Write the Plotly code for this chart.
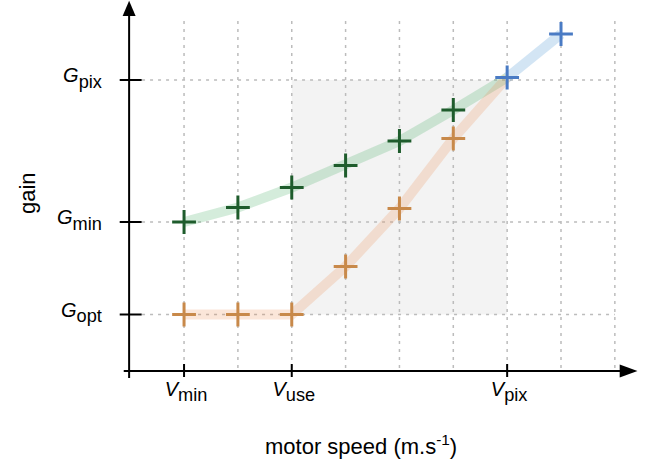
import plotly.graph_objects as go

# ---------------- data ----------------
grid_speed = [1, 2, 3, 4, 5, 6, 7, 8, 9]

green_speed = [1, 2, 3, 4, 5, 6, 7]
green_gain = [14.9, 16.35, 18.35, 20.55, 23.0, 26.1, 29.35]

orange_speed = [1, 2, 3, 4, 5, 6, 7]
orange_gain = [5.65, 5.65, 5.65, 10.45, 16.25, 23.25, 29.35]

blue_speed = [7, 8]
blue_gain = [29.35, 33.7]

x_tick_vals = [1, 3, 7]
x_tick_subs = ["min", "use", "pix"]
y_tick_vals = [5.65, 14.9, 29.1]
y_tick_subs = ["opt", "min", "pix"]

x_title = "motor speed (m.s<sup>-1</sup>)"
y_title = "gain"

# ---------------- geometry of the axes frame ----------------
W, H = 657, 460
X_RANGE = [-130.2 / 53.85, (W - 130.2) / 53.85]
Y_RANGE = [-8.9, 37.1]
X_AX = -0.02          # where the vertical axis sits (x units)
Y_AX = 0.0            # where the horizontal axis sits (y units)
X_END, X_HEAD = 9.42, 9.09
Y_END, Y_HEAD = 37.02, 35.5
GRID_Y = [0.3, 35.3]
GRID_X = [0.22, 9.0]

FONT = "Liberation Sans, Arial, Helvetica, sans-serif"
GREEN, ORANGE, BLUE = "#1e5c2c", "#c8894a", "#4a7bc4"
GREEN_L, ORANGE_L, BLUE_L = "rgba(60,170,90,0.22)", "rgba(236,140,80,0.22)", "rgba(70,145,210,0.24)"

fig = go.Figure()

# bands
for xs, ys, c in [(green_speed, green_gain, GREEN_L),
                  (orange_speed, orange_gain, ORANGE_L),
                  (blue_speed, blue_gain, BLUE_L)]:
    fig.add_trace(go.Scatter(x=xs, y=ys, mode="lines",
                             line=dict(color=c, width=10),
                             hoverinfo="skip", showlegend=False))

# markers
for xs, ys, c in [(green_speed[:-1], green_gain[:-1], GREEN),
                  (orange_speed[:-1], orange_gain[:-1], ORANGE),
                  (blue_speed, blue_gain, BLUE)]:
    fig.add_trace(go.Scatter(x=xs, y=ys, mode="markers",
                             marker=dict(symbol="cross-thin", size=17,
                                         line=dict(width=3, color=c)),
                             showlegend=False))

shapes = []
# shaded operating area
shapes.append(dict(type="rect", xref="x", yref="y", layer="below",
                   x0=x_tick_vals[1], x1=x_tick_vals[2],
                   y0=y_tick_vals[0], y1=y_tick_vals[2],
                   fillcolor="#f3f3f3", line=dict(width=0)))
# grid
for gx in grid_speed:
    shapes.append(dict(type="line", xref="x", yref="y", layer="below",
                       x0=gx, x1=gx, y0=GRID_Y[0], y1=GRID_Y[1],
                       line=dict(color="#bcbcbc", width=1.5, dash="3px,5px")))
for gy in y_tick_vals:
    shapes.append(dict(type="line", xref="x", yref="y", layer="below",
                       x0=GRID_X[0], x1=GRID_X[1], y0=gy, y1=gy,
                       line=dict(color="#bcbcbc", width=1.5, dash="3px,5px")))
# axes lines
shapes.append(dict(type="line", xref="x", yref="y", x0=X_AX, x1=X_AX,
                   y0=-0.7, y1=Y_HEAD + 0.2, line=dict(color="black", width=2)))
shapes.append(dict(type="line", xref="x", yref="y", x0=-0.12, x1=X_HEAD + 0.05,
                   y0=Y_AX, y1=Y_AX, line=dict(color="black", width=2)))
# arrow heads
dx = 6.5 / 53.85
dy = 6.5 / 10
shapes.append(dict(type="path", xref="x", yref="y",
                   path=f"M {X_AX - dx},{Y_HEAD} L {X_AX + dx},{Y_HEAD} L {X_AX},{Y_END} Z",
                   fillcolor="black", line=dict(width=0)))
shapes.append(dict(type="path", xref="x", yref="y",
                   path=f"M {X_HEAD},{Y_AX - dy} L {X_HEAD},{Y_AX + dy} L {X_END},{Y_AX} Z",
                   fillcolor="black", line=dict(width=0)))
# ticks
for tx in x_tick_vals:
    shapes.append(dict(type="line", xref="x", yref="y", x0=tx, x1=tx,
                       y0=-0.6, y1=0.7, line=dict(color="black", width=2)))
for ty in y_tick_vals:
    shapes.append(dict(type="line", xref="x", yref="y", x0=-0.195, x1=0.213,
                       y0=ty, y1=ty, line=dict(color="black", width=2)))

fig.update_layout(shapes=shapes)

def lab(main, sub):
    return f"<i><span style='font-size:20px'>{main}</span></i><sub>{sub}</sub>"

fig.update_xaxes(range=X_RANGE, showgrid=False, zeroline=False, showline=False,
                 tickmode="array", tickvals=x_tick_vals,
                 ticktext=[lab("V", s) for s in x_tick_subs],
                 anchor="free", position=(H - 371) / H,
                 ticks="", ticklabelstandoff=-2, ticklabelshift=2,
                 tickfont=dict(family=FONT, size=26, color="black"))
fig.update_yaxes(range=Y_RANGE, showgrid=False, zeroline=False, showline=False,
                 tickmode="array", tickvals=y_tick_vals,
                 ticktext=[lab("G", s) for s in y_tick_subs],
                 anchor="free", position=129.1 / W,
                 ticks="outside", ticklen=22, tickcolor="rgba(0,0,0,0)",
                 ticklabelshift=-7,
                 tickfont=dict(family=FONT, size=26, color="black"))

fig.add_annotation(text=x_title, xref="paper", yref="paper",
                   x=361 / W, y=1 - 445 / H, xanchor="center", yanchor="middle",
                   showarrow=False, font=dict(family=FONT, size=22, color="black"))
fig.add_annotation(text=y_title, xref="paper", yref="paper", textangle=-90,
                   x=27 / W, y=1 - 193 / H, xanchor="center", yanchor="middle",
                   showarrow=False, font=dict(family=FONT, size=22, color="black"))

fig.update_layout(width=W, height=H, margin=dict(l=0, r=0, t=0, b=0, pad=0),
                  plot_bgcolor="white", paper_bgcolor="white")

fig.write_html("out.html", config={"displayModeBar": False},
               post_script="document.body.style.margin='0';")
